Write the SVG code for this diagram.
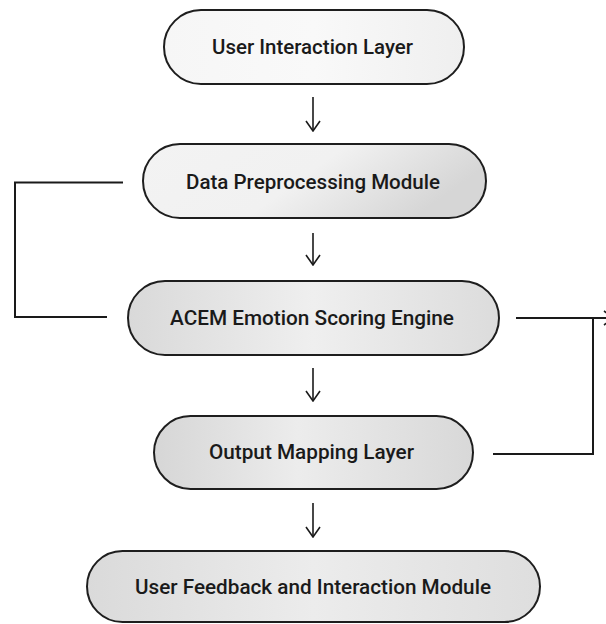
<svg xmlns="http://www.w3.org/2000/svg" width="606" height="624" viewBox="0 0 606 624">
<defs>
<linearGradient id="g1" x1="0" y1="0" x2="1" y2="0"><stop offset="0" stop-color="#f6f6f6"/><stop offset="0.5" stop-color="#f9f9f9"/><stop offset="1" stop-color="#efefef"/></linearGradient>
<linearGradient id="g2" x1="0" y1="0" x2="1" y2="0.3"><stop offset="0" stop-color="#f3f3f3"/><stop offset="0.55" stop-color="#f1f1f1"/><stop offset="1" stop-color="#d6d6d6"/></linearGradient>
<linearGradient id="g3" x1="0" y1="0" x2="1" y2="0"><stop offset="0" stop-color="#d9d9d9"/><stop offset="0.5" stop-color="#efefef"/><stop offset="1" stop-color="#dcdcdc"/></linearGradient>
<linearGradient id="g4" x1="0" y1="0" x2="1" y2="0"><stop offset="0" stop-color="#d6d6d6"/><stop offset="0.45" stop-color="#ececec"/><stop offset="1" stop-color="#d8d8d8"/></linearGradient>
<linearGradient id="g5" x1="0" y1="0" x2="1" y2="0"><stop offset="0" stop-color="#dadada"/><stop offset="0.5" stop-color="#ececec"/><stop offset="1" stop-color="#dedede"/></linearGradient>
<marker id="ah" viewBox="0 0 12 16" refX="11" refY="8" markerWidth="12" markerHeight="16" markerUnits="userSpaceOnUse" orient="auto">
<path d="M1,1 L11,8 L1,15" fill="none" stroke="#1a1a1a" stroke-width="1.6"/>
</marker>
<style>
.n{stroke:#1e1e1e;stroke-width:2}
.t{font-family:Roboto,"Liberation Sans",Arial,sans-serif;font-size:21px;font-weight:500;fill:#1a1a1a;text-anchor:start}
.c{fill:none;stroke:#1a1a1a;stroke-width:2}
.a{fill:none;stroke:#1a1a1a;stroke-width:1.6}
</style>
</defs>
<rect width="606" height="624" fill="#ffffff"/>
<g id="connectors">
<line class="a" x1="313" y1="97" x2="313" y2="131" marker-end="url(#ah)"/>
<line class="a" x1="313" y1="233" x2="313" y2="265" marker-end="url(#ah)"/>
<line class="a" x1="313" y1="368" x2="313" y2="401" marker-end="url(#ah)"/>
<line class="a" x1="313" y1="503" x2="313" y2="537" marker-end="url(#ah)"/>
<polyline class="c" points="123,182.5 15,182.5 15,317 107,317"/>
<polyline class="c" points="493,454 593,454 593,318"/>
<line class="c" x1="516" y1="318" x2="614" y2="318" marker-end="url(#ah)"/>
</g>
<g id="n1">
<rect class="n" x="164" y="10" width="300" height="74" rx="37" fill="url(#g1)"/>
<text class="t" x="212" y="54" textLength="201" lengthAdjust="spacingAndGlyphs">User Interaction Layer</text>
</g>
<g id="n2">
<rect class="n" x="143" y="144" width="343" height="74" rx="37" fill="url(#g2)"/>
<text class="t" x="186" y="189" textLength="254" lengthAdjust="spacingAndGlyphs">Data Preprocessing Module</text>
</g>
<g id="n3">
<rect class="n" x="128" y="281" width="371" height="74" rx="37" fill="url(#g3)"/>
<text class="t" x="170" y="325" textLength="284" lengthAdjust="spacingAndGlyphs">ACEM Emotion Scoring Engine</text>
</g>
<g id="n4">
<rect class="n" x="154" y="416" width="319" height="73" rx="36.5" fill="url(#g4)"/>
<text class="t" x="209" y="459" textLength="205" lengthAdjust="spacingAndGlyphs">Output Mapping Layer</text>
</g>
<g id="n5">
<rect class="n" x="87" y="551" width="453" height="71" rx="35.5" fill="url(#g5)"/>
<text class="t" x="135" y="594" textLength="356" lengthAdjust="spacingAndGlyphs">User Feedback and Interaction Module</text>
</g>
</svg>
